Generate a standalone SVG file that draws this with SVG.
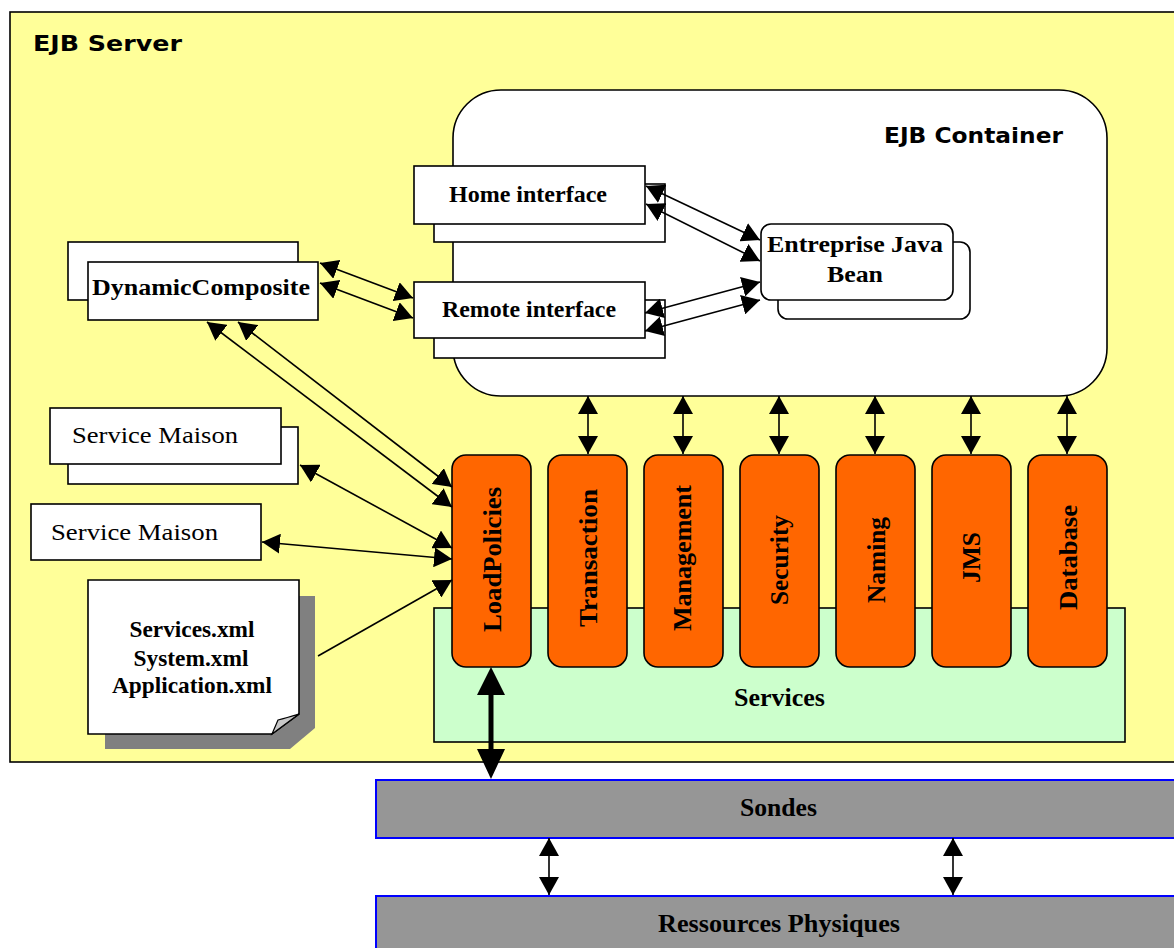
<svg xmlns="http://www.w3.org/2000/svg" width="1174" height="948" viewBox="0 0 1174 948">
<style>
.box{fill:#fff;stroke:#000;stroke-width:1.6}
.orange{fill:#FF6600;stroke:#000;stroke-width:1.6}
.lbl{font-family:"Liberation Serif","Times New Roman",serif;font-weight:bold;fill:#000}
.reg{font-family:"Liberation Serif","Times New Roman",serif;fill:#000}
.comic{font-family:"Comic Sans MS","DejaVu Sans",sans-serif;font-weight:bold;fill:#000}
.conn line,.conn path{stroke:#000;stroke-width:1.6;fill:none}
.gray{fill:#969696;stroke:#0000FF;stroke-width:2}
</style>
<defs>
<marker id="ah" markerUnits="userSpaceOnUse" viewBox="0 0 18 20" markerWidth="18" markerHeight="20" refX="18" refY="10" orient="auto-start-reverse"><path d="M0,0 L18,10 L0,20 z" fill="#000"/></marker>
</defs>

<g id="ejb-server">
<rect x="10" y="12" width="1180" height="750" fill="#FFFF99" stroke="#000" stroke-width="1.6"/>
<text class="comic" x="33" y="51" font-size="22" textLength="149" lengthAdjust="spacingAndGlyphs">EJB Server</text>
</g>

<g id="ejb-container">
<rect x="453" y="90" width="654" height="306" rx="48" ry="48" class="box"/>
<text class="comic" x="884" y="143" font-size="22" textLength="179" lengthAdjust="spacingAndGlyphs">EJB Container</text>
</g>

<g id="services">
<rect x="434" y="608" width="691" height="134" fill="#CCFFCC" stroke="#000" stroke-width="1.6"/>
<text class="lbl" x="779.5" y="706" font-size="26" text-anchor="middle" textLength="91" lengthAdjust="spacingAndGlyphs">Services</text>
</g>

<g id="home-interface">
<rect x="434" y="184" width="231" height="58" class="box"/>
<rect x="414" y="166" width="231" height="58" class="box"/>
<text class="lbl" x="528" y="202" font-size="24" text-anchor="middle" textLength="158" lengthAdjust="spacingAndGlyphs">Home interface</text>
</g>

<g id="remote-interface">
<rect x="434" y="300" width="231" height="58" class="box"/>
<rect x="414" y="282" width="231" height="56" class="box"/>
<text class="lbl" x="529" y="317" font-size="24" text-anchor="middle" textLength="174" lengthAdjust="spacingAndGlyphs">Remote interface</text>
</g>

<g id="entreprise-java-bean">
<rect x="778" y="242" width="192" height="77" rx="10" ry="10" class="box"/>
<rect x="761" y="224" width="192" height="76" rx="10" ry="10" class="box"/>
<text class="lbl" x="855" y="252" font-size="24" text-anchor="middle" textLength="176" lengthAdjust="spacingAndGlyphs">Entreprise Java</text>
<text class="lbl" x="855" y="282" font-size="24" text-anchor="middle" textLength="56" lengthAdjust="spacingAndGlyphs">Bean</text>
</g>

<g id="dynamic-composite">
<rect x="68" y="242" width="230" height="58" class="box"/>
<rect x="88" y="262" width="230" height="58" class="box"/>
<text class="lbl" x="201" y="295" font-size="24" text-anchor="middle" textLength="218" lengthAdjust="spacingAndGlyphs">DynamicComposite</text>
</g>

<g id="service-maison-1">
<rect x="68" y="427" width="230" height="57" class="box"/>
<rect x="50" y="408" width="231" height="56" class="box"/>
<text class="reg" x="72" y="443" font-size="24" textLength="166" lengthAdjust="spacingAndGlyphs">Service Maison</text>
</g>

<g id="service-maison-2">
<rect x="31" y="504" width="230" height="56" class="box"/>
<text class="reg" x="51" y="540" font-size="24" textLength="167" lengthAdjust="spacingAndGlyphs">Service Maison</text>
</g>

<g id="config-files">
<polygon points="105,596 315,596 315,728 290,749 105,749" fill="#808080"/>
<polygon points="88,580 299,580 299,714 272,734 88,734" class="box"/>
<path d="M272,734 L278,720 Q286,718 299,714 Z" fill="#C8C8C8" stroke="#000" stroke-width="1.2"/>
<text class="lbl" x="192" y="637" font-size="23" text-anchor="middle" textLength="125" lengthAdjust="spacingAndGlyphs">Services.xml</text>
<text class="lbl" x="191" y="666" font-size="23" text-anchor="middle" textLength="115" lengthAdjust="spacingAndGlyphs">System.xml</text>
<text class="lbl" x="192" y="693" font-size="23" text-anchor="middle" textLength="160" lengthAdjust="spacingAndGlyphs">Application.xml</text>
</g>

<g id="load-policies">
<rect x="452" y="455" width="79" height="212" rx="14" ry="14" class="orange"/>
<text class="lbl" transform="translate(501,559.5) rotate(-90)" font-size="26" text-anchor="middle" textLength="145" lengthAdjust="spacingAndGlyphs">LoadPolicies</text>
</g>
<g id="transaction">
<rect x="548" y="455" width="79" height="212" rx="14" ry="14" class="orange"/>
<text class="lbl" transform="translate(597,558) rotate(-90)" font-size="26" text-anchor="middle" textLength="138" lengthAdjust="spacingAndGlyphs">Transaction</text>
</g>
<g id="management">
<rect x="644" y="455" width="79" height="212" rx="14" ry="14" class="orange"/>
<text class="lbl" transform="translate(691,558) rotate(-90)" font-size="26" text-anchor="middle" textLength="146" lengthAdjust="spacingAndGlyphs">Management</text>
</g>
<g id="security">
<rect x="740" y="455" width="79" height="212" rx="14" ry="14" class="orange"/>
<text class="lbl" transform="translate(788,560) rotate(-90)" font-size="26" text-anchor="middle" textLength="90" lengthAdjust="spacingAndGlyphs">Security</text>
</g>
<g id="naming">
<rect x="836" y="455" width="79" height="212" rx="14" ry="14" class="orange"/>
<text class="lbl" transform="translate(885,560) rotate(-90)" font-size="26" text-anchor="middle" textLength="86" lengthAdjust="spacingAndGlyphs">Naming</text>
</g>
<g id="jms">
<rect x="932" y="455" width="79" height="212" rx="14" ry="14" class="orange"/>
<text class="lbl" transform="translate(980,557.5) rotate(-90)" font-size="26" text-anchor="middle" textLength="51" lengthAdjust="spacingAndGlyphs">JMS</text>
</g>
<g id="database">
<rect x="1028" y="455" width="79" height="212" rx="14" ry="14" class="orange"/>
<text class="lbl" transform="translate(1077,557.5) rotate(-90)" font-size="26" text-anchor="middle" textLength="105" lengthAdjust="spacingAndGlyphs">Database</text>
</g>

<g id="sondes">
<rect x="376" y="780" width="820" height="58" class="gray"/>
<text class="lbl" x="778.5" y="816" font-size="26" text-anchor="middle" textLength="77" lengthAdjust="spacingAndGlyphs">Sondes</text>
</g>

<g id="ressources-physiques">
<rect x="376" y="896" width="820" height="70" class="gray"/>
<text class="lbl" x="779" y="932" font-size="26" text-anchor="middle" textLength="242" lengthAdjust="spacingAndGlyphs">Ressources Physiques</text>
</g>

<g id="connectors" class="conn">
<line x1="646" y1="186" x2="760" y2="240" marker-start="url(#ah)" marker-end="url(#ah)"/>
<line x1="646" y1="204" x2="760" y2="261" marker-start="url(#ah)" marker-end="url(#ah)"/>
<line x1="645" y1="313" x2="760" y2="282" marker-start="url(#ah)" marker-end="url(#ah)"/>
<line x1="645" y1="331" x2="760" y2="300" marker-start="url(#ah)" marker-end="url(#ah)"/>
<line x1="320" y1="263" x2="413" y2="298" marker-start="url(#ah)" marker-end="url(#ah)"/>
<line x1="320" y1="283" x2="413" y2="318" marker-start="url(#ah)" marker-end="url(#ah)"/>
<line x1="207" y1="322" x2="452" y2="507" marker-start="url(#ah)" marker-end="url(#ah)"/>
<line x1="238" y1="322" x2="452" y2="487" marker-start="url(#ah)" marker-end="url(#ah)"/>
<line x1="300" y1="465" x2="452" y2="548" marker-start="url(#ah)" marker-end="url(#ah)"/>
<line x1="262" y1="542" x2="452" y2="559" marker-start="url(#ah)" marker-end="url(#ah)"/>
<line x1="318" y1="656" x2="452" y2="580" marker-end="url(#ah)"/>
<line x1="588" y1="396" x2="588" y2="454" marker-start="url(#ah)" marker-end="url(#ah)"/>
<line x1="683" y1="396" x2="683" y2="454" marker-start="url(#ah)" marker-end="url(#ah)"/>
<line x1="779" y1="396" x2="779" y2="454" marker-start="url(#ah)" marker-end="url(#ah)"/>
<line x1="875" y1="396" x2="875" y2="454" marker-start="url(#ah)" marker-end="url(#ah)"/>
<line x1="971" y1="396" x2="971" y2="454" marker-start="url(#ah)" marker-end="url(#ah)"/>
<line x1="1067" y1="396" x2="1067" y2="454" marker-start="url(#ah)" marker-end="url(#ah)"/>
<line x1="549" y1="838" x2="549" y2="895" marker-start="url(#ah)" marker-end="url(#ah)"/>
<line x1="953" y1="838" x2="953" y2="895" marker-start="url(#ah)" marker-end="url(#ah)"/>
<line x1="491" y1="690" x2="491" y2="755" style="stroke-width:5"/>
<polygon points="491,667 505,695 477,695" fill="#000"/>
<polygon points="491,779 505,749 477,749" fill="#000"/>
</g>
</svg>
